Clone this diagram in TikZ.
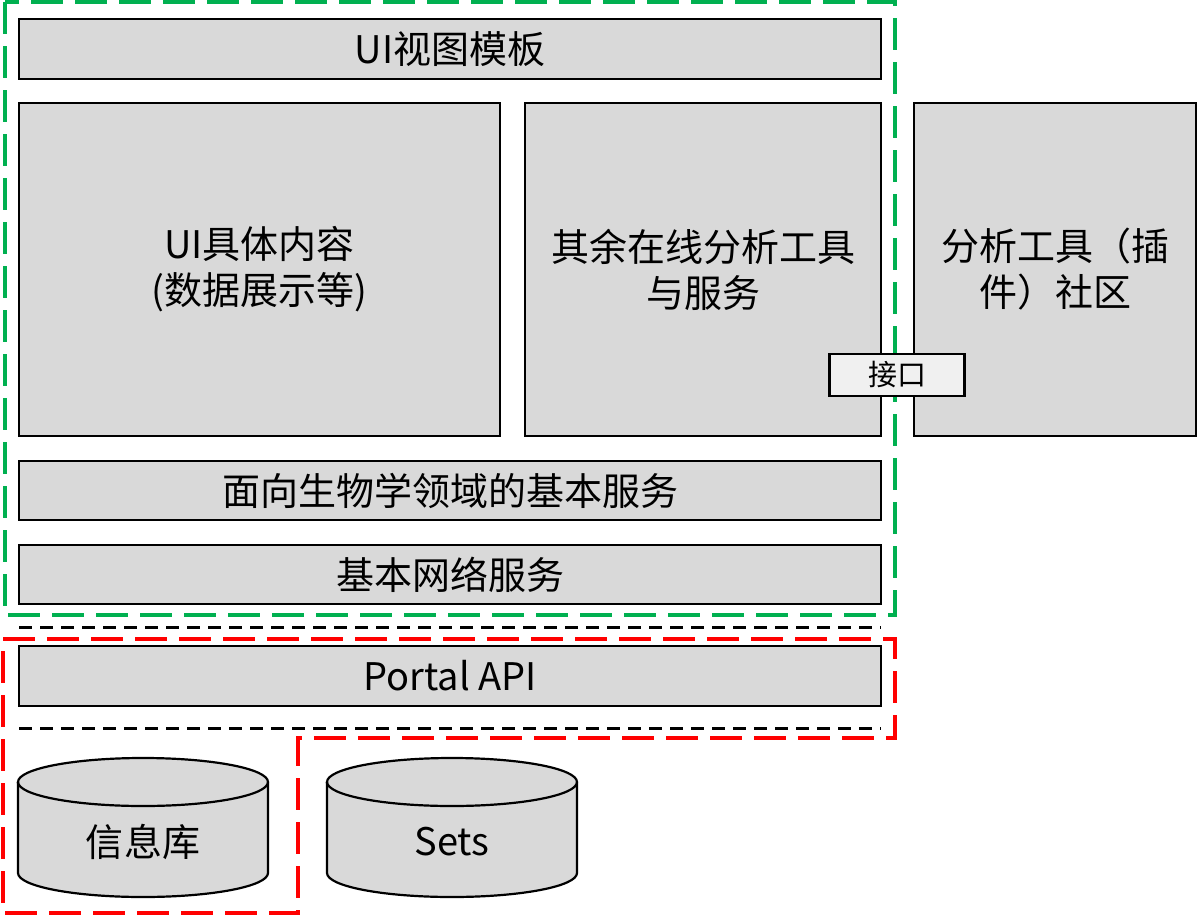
\documentclass[tikz,border=0pt]{standalone}
\usepackage{fontspec}
\setmainfont{Noto Sans CJK SC}
\definecolor{boxgray}{HTML}{D9D9D9}
\definecolor{ifacegray}{HTML}{F0F0F0}
\definecolor{dgreen}{HTML}{00B050}
\definecolor{dred}{HTML}{FF0000}
\begin{document}
\begin{tikzpicture}[x=1bp,y=-1bp,
  box/.style={draw=black, line width=2.2bp, fill=boxgray, anchor=north west,
    inner sep=0pt, outer sep=0pt, align=center, font=\fontsize{38bp}{46bp}\selectfont},
  ifacebox/.style={draw=black, line width=2.2bp, fill=ifacegray, inner sep=0pt,
    minimum width=135bp, minimum height=42bp, font=\fontsize{29bp}{32bp}\selectfont},
  greenframe/.style={draw=dgreen, line width=4bp, dash pattern=on 32bp off 12bp},
  redframe/.style={draw=dred, line width=4bp, dash pattern=on 32bp off 12bp},
  blackline/.style={draw=black, line width=3bp, dash pattern=on 13bp off 8bp},
  dbshape/.style={draw=black, line width=2.2bp, fill=boxgray},
  dblabel/.style={font=\fontsize{38bp}{46bp}\selectfont, inner sep=0pt}
]
\useasboundingbox (0,0) rectangle (1197,917);

% frames
\draw[greenframe] (5,2) rectangle (895,615);
\coordinate (bl1a) at (19,627); \coordinate (bl1b) at (881,627);
\coordinate (bl2a) at (19,728); \coordinate (bl2b) at (881,728);
\draw[blackline] (bl1a) -- (bl1b);
\draw[blackline] (bl2a) -- (bl2b);
\draw[redframe] (3,639) -- (895,639) -- (895,738) -- (298,738) -- (298,913) -- (3,913) -- cycle;

% boxes
\node[box, minimum width=862bp, minimum height=60bp] (ui) at (19,19) {UI视图模板};
\node[box, minimum width=481bp, minimum height=333bp] (content) at (19,103) {UI具体内容\\(数据展示等)};
\node[box, minimum width=356bp, minimum height=333bp] (tools) at (525,103) {其余在线分析工具\\与服务};
\node[box, minimum width=282bp, minimum height=333bp] (community) at (914,103) {分析工具（插\\件）社区};
\node[box, minimum width=862bp, minimum height=59bp] (bio) at (19,461) {面向生物学领域的基本服务};
\node[box, minimum width=862bp, minimum height=59bp] (net) at (19,545) {基本网络服务};
\node[box, minimum width=862bp, minimum height=60bp] (portal) at (19,646) {Portal API};
\node[ifacebox] (iface) at (897,375) {接口};

% databases
\draw[dbshape] (18,782) -- (18,873) arc[start angle=180, end angle=360, x radius=125bp, y radius=24bp]
  -- (268,782) arc[start angle=0, end angle=180, x radius=125bp, y radius=24bp] -- cycle;
\draw[line width=2.2bp] (18,782) arc[start angle=180, end angle=360, x radius=125bp, y radius=24bp];
\node[dblabel] (db1) at (143,842) {信息库};

\draw[dbshape] (327,782) -- (327,873) arc[start angle=180, end angle=360, x radius=125bp, y radius=24bp]
  -- (577,782) arc[start angle=0, end angle=180, x radius=125bp, y radius=24bp] -- cycle;
\draw[line width=2.2bp] (327,782) arc[start angle=180, end angle=360, x radius=125bp, y radius=24bp];
\node[dblabel] (db2) at (452,842) {Sets};
\end{tikzpicture}
\end{document}
